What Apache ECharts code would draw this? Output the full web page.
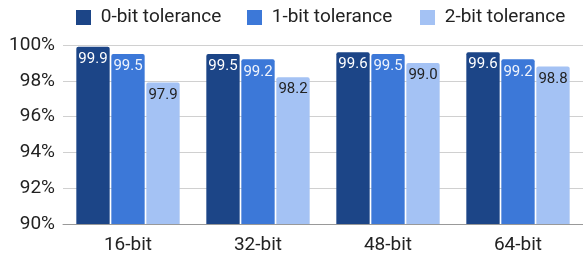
<!DOCTYPE html>
<html>
<head>
<meta charset="utf-8">
<script src="https://cdn.jsdelivr.net/npm/echarts@6/dist/echarts.min.js"></script>
<style>
  html, body {margin: 0; padding: 0; background: #fff;}
  #chart {width: 583px; height: 257px;}
</style>
</head>
<body>
<div id="chart"></div>
<script>
const categories = ['16-bit', '32-bit', '48-bit', '64-bit']
const seriesNames = ['0-bit tolerance', '1-bit tolerance', '2-bit tolerance']
const tol0 = [99.9, 99.5, 99.6, 99.6]
const tol1 = [99.5, 99.2, 99.5, 99.2]
const tol2 = [97.9, 98.2, 99.0, 98.8]
const colors = ['#1c4587', '#3c78d8', '#a4c2f4']
const labelColors = ['#ffffff', '#f0f4fc', '#222222']
const legendLeft = [76, 247, 420]

const font = 'Roboto'
const chart = echarts.init(document.getElementById('chart'))

const makeSeries = (name, data, i) => ({
  name,
  type: 'bar',
  data,
  barGap: '5%',
  barCategoryGap: '20.5%',
  itemStyle: {color: colors[i], borderRadius: [2, 2, 0, 0]},
  label: {
    show: true,
    position: 'insideTop',
    distance: 5,
    color: labelColors[i],
    fontFamily: font,
    fontSize: 15,
    formatter: p => p.value.toFixed(1)
  }
})

// one legend per series so each entry sits where it does in the picture
const legends = seriesNames.map((name, i) => ({
  top: 8,
  left: legendLeft[i],
  padding: 0,
  itemWidth: 15,
  itemHeight: 15,
  icon: 'rect',
  formatter: n => ' ' + n,
  textStyle: {fontFamily: font, fontSize: 19, color: '#222'},
  data: [name]
}))

chart.setOption({
  animation: false,
  color: colors,
  legend: legends,
  grid: {left: 63, right: 0, top: 45, bottom: 33},
  xAxis: {
    type: 'category',
    data: categories,
    axisTick: {show: false},
    axisLine: {lineStyle: {color: '#999'}},
    axisLabel: {fontFamily: font, fontSize: 19, color: '#222', margin: 12}
  },
  yAxis: {
    type: 'value',
    min: 90,
    max: 100,
    interval: 2,
    axisLabel: {fontFamily: font, fontSize: 19, color: '#222', margin: 8, formatter: '{value}%'},
    splitLine: {lineStyle: {color: '#d0d0d0'}}
  },
  series: [
    makeSeries(seriesNames[0], tol0, 0),
    makeSeries(seriesNames[1], tol1, 1),
    makeSeries(seriesNames[2], tol2, 2)
  ]
})
</script>
</body>
</html>
